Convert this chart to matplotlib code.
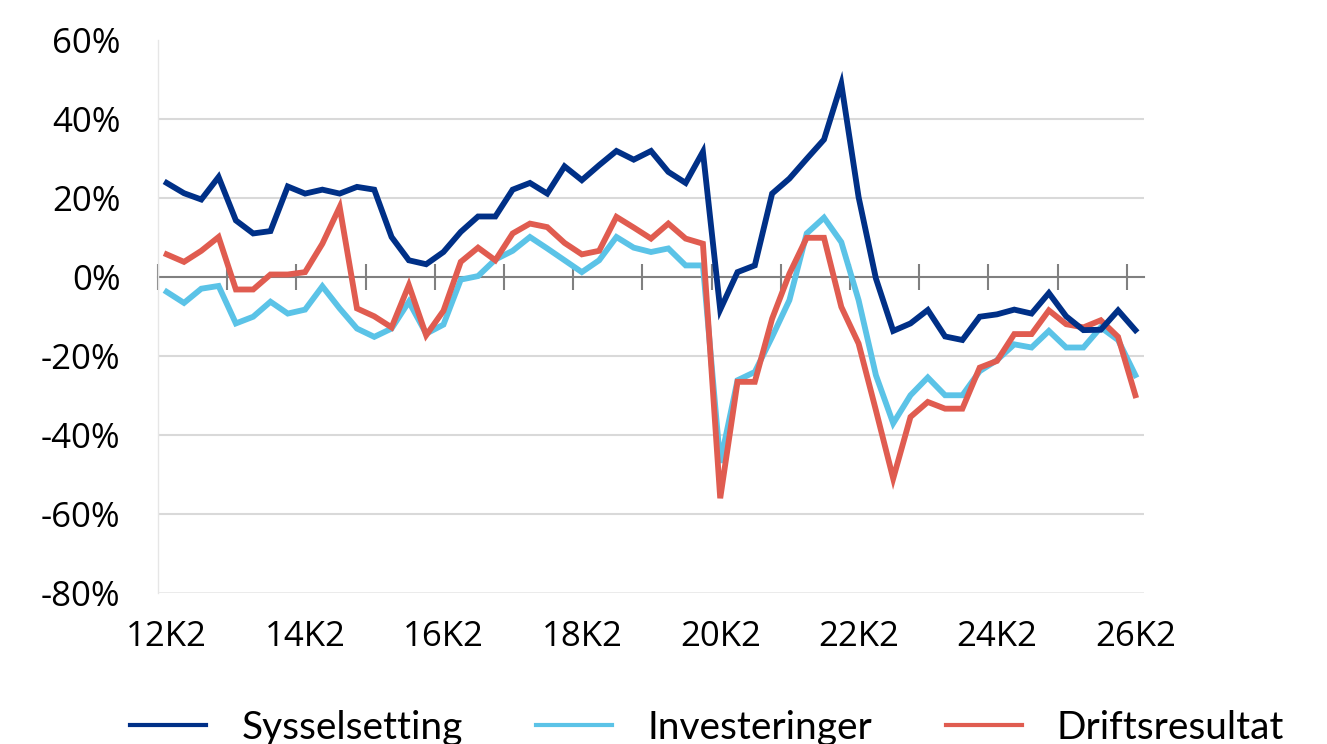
import matplotlib.pyplot as plt
import matplotlib.transforms as mtransforms
import numpy as np


# Quarterly values, 12K2 through 26K2 (57 quarters).
sysselsetting = [23.9, 21.3, 19.7, 25.4, 14.4, 11.1, 11.7, 23.0, 21.2, 22.2,
                 21.2, 22.9, 22.2, 10.2, 4.3, 3.3, 6.4, 11.5, 15.4, 15.4,
                 22.2, 23.9, 21.2, 28.1, 24.6, 28.4, 32.0, 29.8, 32.0, 26.7,
                 23.9, 31.8, -8.2, 1.3, 3.0, 21.2, 25.0, 30.0, 34.9, 49.0,
                 20.3, -0.3, -13.6, -11.7, -8.3, -15.0, -15.9, -10.0, -9.4, -8.2,
                 -9.2, -4.0, -9.9, -13.4, -13.3, -8.4, -13.4]

investeringer = [-3.7, -6.5, -2.9, -2.2, -11.7, -10.0, -6.2, -9.2, -8.2, -2.3,
                 -7.9, -13.0, -15.1, -13.0, -6.2, -14.3, -12.0, -0.6, 0.3, 4.5,
                 6.7, 10.2, 7.3, 4.3, 1.3, 4.3, 10.2, 7.5, 6.4, 7.3,
                 3.0, 3.0, -47.0, -26.1, -24.0, -15.1, -5.8, 11.1, 15.1, 8.9,
                 -5.8, -24.8, -37.0, -29.9, -25.4, -29.9, -29.9, -23.8, -21.0, -17.0,
                 -17.8, -13.6, -17.8, -17.8, -12.7, -15.9, -24.8]

driftsresultat = [5.8, 3.9, 6.7, 10.2, -3.1, -3.1, 0.7, 0.7, 1.3, 8.5,
                  17.8, -7.9, -9.9, -12.7, -2.0, -14.7, -8.5, 3.9, 7.5, 4.3,
                  11.1, 13.6, 12.7, 8.7, 5.8, 6.7, 15.3, 12.6, 9.8, 13.6,
                  9.8, 8.5, -56.0, -26.5, -26.5, -10.5, 0.9, 10.0, 10.0, -7.5,
                  -16.8, -33.7, -51.0, -35.4, -31.6, -33.3, -33.3, -22.9, -21.2, -14.4,
                  -14.4, -8.4, -11.9, -12.7, -10.9, -15.1, -29.9]

# Labels shown every eighth quarter.
x_labels = ['12K2', '14K2', '16K2', '18K2', '20K2', '22K2', '24K2', '26K2']

y_ticks = [-80, -60, -40, -20, 0, 20, 40, 60]
grid_values = [-60, -40, -20, 20, 40]

# Colours.
dark_blue = '#003087'
light_blue = '#5bc3e7'
red = '#e05c50'

tick_font = 'Open Sans'

fig = plt.figure(figsize=(13.27, 7.44), dpi=100)
ax = fig.add_axes([0.1191, 0.203, 0.743, 0.7426])

x = np.arange(len(sysselsetting))

# Light horizontal gridlines.
for g in grid_values:
    ax.axhline(g, color='#d9d9d9', lw=1.5, zorder=1)
ax.axhline(-80, color='#e8e8e8', lw=1.2, zorder=1)

# The three series.
ax.plot(x, sysselsetting, color=dark_blue, lw=4.2, solid_joinstyle='miter', zorder=4)
ax.plot(x, investeringer, color=light_blue, lw=4.2, solid_joinstyle='miter', zorder=3)
ax.plot(x, driftsresultat, color=red, lw=4.2, solid_joinstyle='miter', zorder=3.5)

ax.set_xlim(-0.5, len(sysselsetting) - 0.5)
ax.set_ylim(-80, 60)

# Category axis sits on the zero line, ticks between every fourth quarter.
ax.spines['bottom'].set_position(('data', 0))
ax.spines['bottom'].set_color('#808080')
ax.spines['bottom'].set_linewidth(1.5)
ax.spines['bottom'].set_zorder(2)
ax.spines['top'].set_visible(False)
ax.spines['right'].set_visible(False)
ax.spines['left'].set_color('#e6e6e6')
ax.spines['left'].set_linewidth(1.0)

ax.set_xticks(np.arange(-0.5, len(sysselsetting), 4))
ax.tick_params(axis='x', direction='inout', length=19, width=1.5,
               color='#808080', labelbottom=False)

# X labels under the plot area.
trans = mtransforms.blended_transform_factory(ax.transData, ax.transAxes)
for k, lab in enumerate(x_labels):
    ax.text(k * 8, -0.08, lab, transform=trans, ha='center', va='center',
            fontsize=25, family=tick_font, color='black')

# Y axis as percentages.
ax.set_yticks(y_ticks)
ax.set_yticklabels([f'{v}%' for v in y_ticks])
ax.tick_params(axis='y', length=0, pad=27, labelsize=25)
for lab in ax.get_yticklabels():
    lab.set_family(tick_font)

# Legend along the bottom, partly cut by the lower edge as in the original.
handles = [plt.Line2D([], [], color=c, lw=3) for c in (dark_blue, light_blue, red)]
fig.legend(handles, ['Sysselsetting', 'Investeringer', 'Driftsresultat'],
           loc='center', bbox_to_anchor=(0.533, 0.022), ncol=3, frameon=False,
           prop={'family': 'Lato', 'size': 28}, labelcolor='black',
           handlelength=1.95, handletextpad=0.9, columnspacing=1.9)

fig.savefig('out.png', dpi=100)
